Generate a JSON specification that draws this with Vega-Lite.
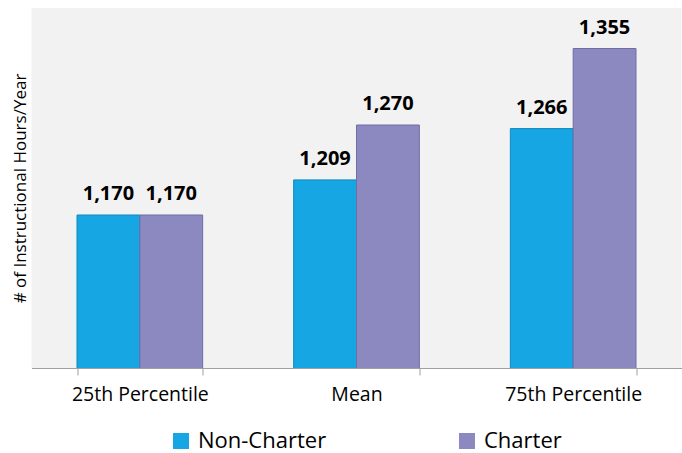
{
  "$schema": "https://vega.github.io/schema/vega-lite/v6.json",
  "width": 650,
  "height": 360,
  "autosize": {"type": "none"},
  "padding": {"left": 31.5, "top": 8, "right": 0.5, "bottom": 85},
  "background": "white",
  "config": {"view": {"fill": "#f2f2f2", "stroke": null}, "font": "Open Sans"},
  "data": {
    "values": [
      {"stat": "25th Percentile", "group": "Non-Charter", "hours": 1170},
      {"stat": "25th Percentile", "group": "Charter", "hours": 1170},
      {"stat": "Mean", "group": "Non-Charter", "hours": 1209},
      {"stat": "Mean", "group": "Charter", "hours": 1270},
      {"stat": "75th Percentile", "group": "Non-Charter", "hours": 1266},
      {"stat": "75th Percentile", "group": "Charter", "hours": 1355}
    ]
  },
  "encoding": {
    "x": {
      "field": "stat",
      "type": "nominal",
      "sort": ["25th Percentile", "Mean", "75th Percentile"],
      "scale": {"paddingInner": 0.42, "paddingOuter": 0.21},
      "axis": {
        "title": null,
        "labelAngle": 0,
        "labelFontSize": 19.5,
        "labelColor": "#000000",
        "labelPadding": 10,
        "domainColor": "#a0a0a0",
        "tickColor": "#a0a0a0",
        "tickSize": 7,
        "tickBand": "extent",
        "grid": false
      }
    },
    "xOffset": {
      "field": "group",
      "sort": ["Non-Charter", "Charter"],
      "scale": {"paddingInner": 0, "paddingOuter": 0}
    },
    "y": {
      "field": "hours",
      "type": "quantitative",
      "scale": {"domain": [1000, 1400], "nice": false, "zero": false},
      "axis": {
        "title": "# of Instructional Hours/Year",
        "titleFontSize": 17,
        "titleFontWeight": "normal",
        "titleColor": "#000000",
        "titlePadding": 2,
        "labels": false,
        "ticks": false,
        "domain": false,
        "grid": false
      }
    }
  },
  "layer": [
    {
      "mark": {"type": "bar", "clip": true, "strokeWidth": 1},
      "encoding": {
        "color": {
          "field": "group",
          "type": "nominal",
          "sort": ["Non-Charter", "Charter"],
          "scale": {"domain": ["Non-Charter", "Charter"], "range": ["#16a6e4", "#8b89c0"]},
          "legend": {
            "title": null,
            "orient": "none",
            "direction": "horizontal",
            "legendX": 138.5,
            "legendY": 422,
            "symbolType": "square",
            "symbolSize": 256,
            "symbolStrokeWidth": 0,
            "labelFontSize": 22,
            "labelColor": "#000000",
            "labelOffset": 6,
            "columnPadding": 129
          }
        },
        "stroke": {
          "field": "group",
          "type": "nominal",
          "scale": {"domain": ["Non-Charter", "Charter"], "range": ["#1088bd", "#6f6ca6"]},
          "legend": null
        }
      }
    },
    {
      "mark": {"type": "text", "baseline": "bottom", "dy": -11, "fontWeight": "bold", "fontSize": 20, "color": "#000000"},
      "encoding": {
        "text": {"field": "hours", "type": "quantitative", "format": ","}
      }
    }
  ]
}
